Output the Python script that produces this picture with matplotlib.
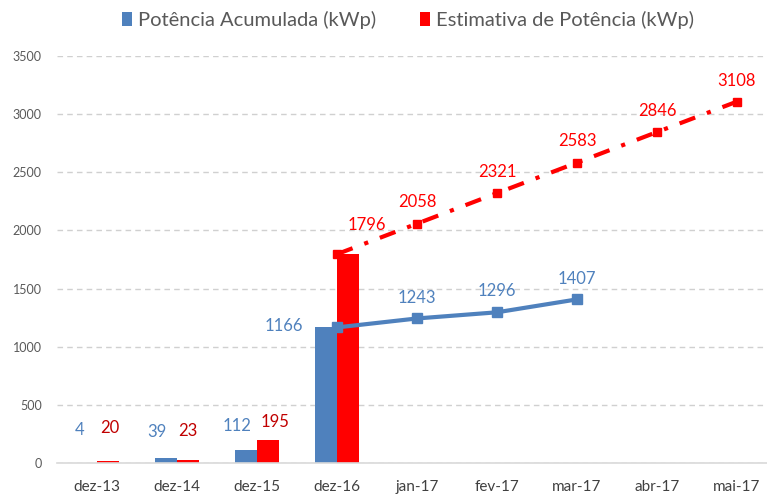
import numpy as np
import matplotlib.pyplot as plt

plt.rcParams['font.family'] = ['Lato', 'DejaVu Sans']

categorias = ['dez-13', 'dez-14', 'dez-15', 'dez-16', 'jan-17', 'fev-17',
              'mar-17', 'abr-17', 'mai-17']
barras_acumulada = [4, 39, 112, 1166]
barras_estimativa = [20, 23, 195, 1796]
linha_acumulada = [1166, 1243, 1296, 1407]
linha_estimativa = [1796, 2058, 2321, 2583, 2846, 3108]

azul = '#4F81BD'
vermelho = '#FF0000'
vermelho_escuro = '#C00000'

# label offsets in pixels (manual placement, as in the original)
off_bar_azul = [(-6, 33), (-9, 26), (-9, 24), (-42, 1)]
off_bar_verm = [(2, 33), (0, 29), (7, 18), None]
off_lin_azul = [None, (0, 20), (0, 21), (0, 20)]
off_lin_verm = [(30, 29), (0, 22), (0, 21), (0, 22), (0, 21), (0, 21)]


def rotular(ax, xs, vals, offs, cor):
    for xi, v, off in zip(xs, vals, offs):
        if off is None:
            continue
        ax.annotate(str(v), (xi, v), xytext=off, textcoords='offset pixels',
                    ha='center', va='center', color=cor, fontsize=12)


def main():
    fig = plt.figure(figsize=(7.67, 4.94), dpi=100)
    ax = fig.add_axes([57 / 767, 31 / 494, 710 / 767, 407 / 494])

    x = np.arange(len(categorias))
    w = 0.28
    xb = x[:len(barras_acumulada)]
    ax.bar(xb - w / 2, barras_acumulada, w, color=azul, zorder=2,
           label='Potência Acumulada (kWp)')
    ax.bar(xb + w / 2, barras_estimativa, w, color=vermelho, zorder=2,
           label='Estimativa de Potência (kWp)')

    xl = x[3:3 + len(linha_acumulada)]
    ax.plot(xl, linha_acumulada, color=azul, lw=3, marker='s', ms=7, zorder=3)
    xe = x[3:3 + len(linha_estimativa)]
    ax.plot(xe, linha_estimativa, color=vermelho, lw=3, ls=(0, (4, 3, 1, 3)),
            marker='s', ms=6, zorder=3)

    rotular(ax, xb - w / 2, barras_acumulada, off_bar_azul, azul)
    rotular(ax, xb + w / 2, barras_estimativa, off_bar_verm, vermelho_escuro)
    rotular(ax, xl, linha_acumulada, off_lin_azul, azul)
    rotular(ax, xe, linha_estimativa, off_lin_verm, vermelho)

    ax.set_xlim(-0.5, 8.375)
    ax.set_ylim(0, 3500)
    ax.set_yticks(np.arange(0, 3501, 500))
    ax.set_xticks(x)
    ax.set_xticklabels(categorias)
    ax.tick_params(axis='y', length=0, labelsize=9, colors='#595959', pad=11)
    ax.tick_params(axis='x', length=0, labelsize=11, colors='#404040', pad=12)
    ax.yaxis.grid(True, ls=(0, (4, 3)), color='#D0D0D0', lw=1, zorder=0)
    ax.set_axisbelow(True)
    for s in ['top', 'right', 'left']:
        ax.spines[s].set_visible(False)
    ax.spines['bottom'].set_color('#D9D9D9')
    ax.spines['bottom'].set_linewidth(1.2)

    fig.legend(loc='center', bbox_to_anchor=(408 / 767, 1 - 20 / 494),
               ncol=2, frameon=False, fontsize=14.5, handlelength=0.5,
               handleheight=0.75, handletextpad=0.3, columnspacing=2.2,
               labelcolor='#595959')

    fig.savefig('out.png', dpi=100)


if __name__ == "__main__":
    main()
